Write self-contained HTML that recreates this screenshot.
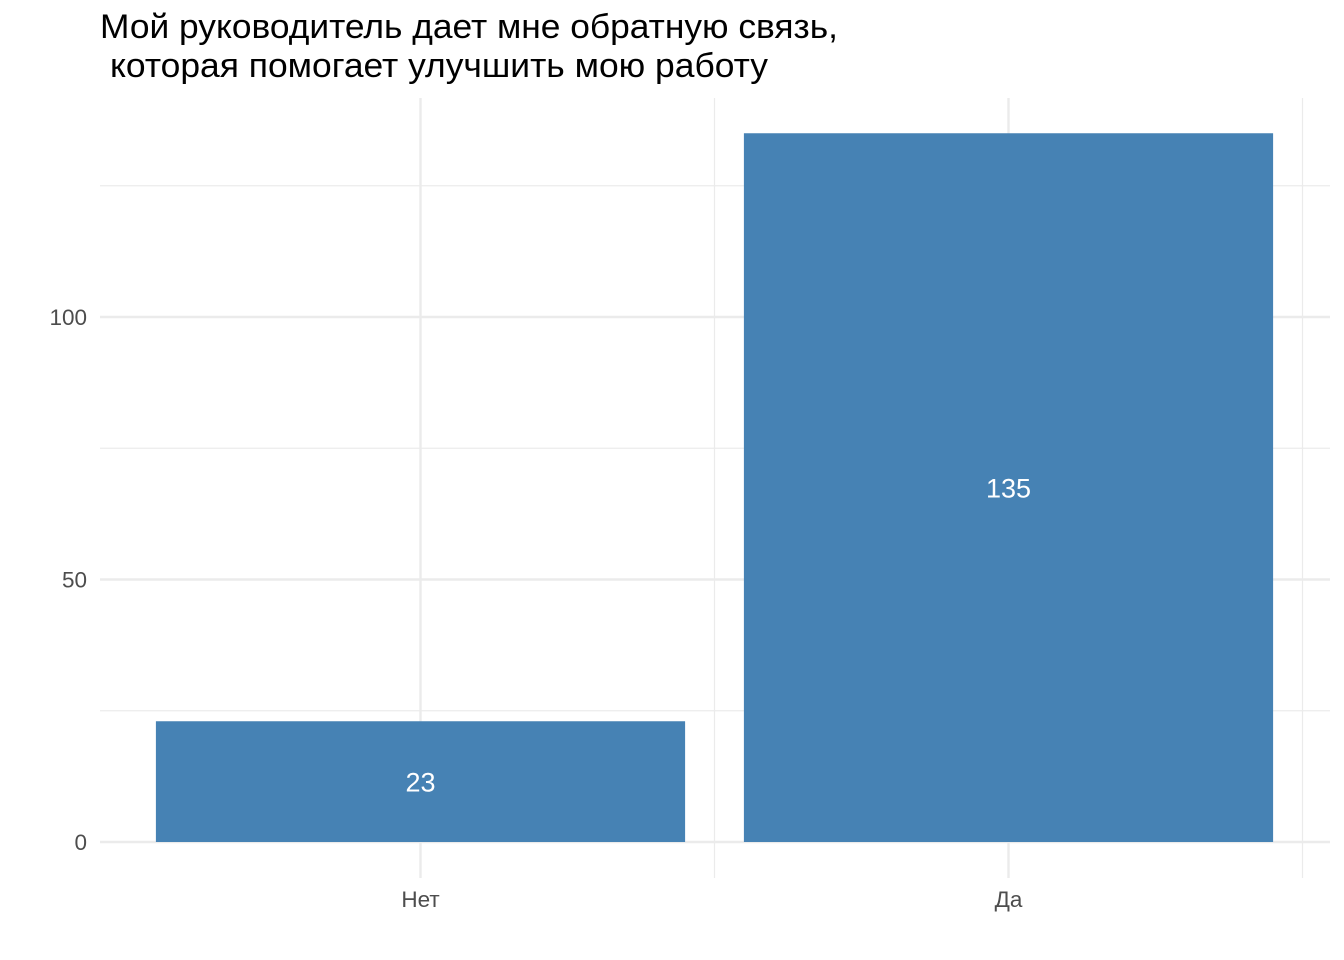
<!DOCTYPE html>
<html><head><meta charset="utf-8"><style>
body{margin:0;background:#fff;}
svg{display:block;font-family:"Liberation Sans",sans-serif;}
</style></head><body>
<svg id="chart" width="1344" height="960">
<text x="100" y="38" font-size="34" fill="#000" textLength="738" lengthAdjust="spacingAndGlyphs">Мой руководитель дает мне обратную связь,</text>
<text x="110" y="77" font-size="34" fill="#000" textLength="658" lengthAdjust="spacingAndGlyphs">которая помогает улучшить мою работу</text>
<g id="grid"></g><g id="bars"></g><g id="axes"></g>
</svg>
<script>
const categories = ["Нет", "Да"];
const values = [23, 135];
const yTicks = [0, 50, 100];
const yMinor = [25, 75, 125];
const svg = document.getElementById('chart');
const NS = 'http://www.w3.org/2000/svg';
const y = v => 842 - v * 5.25;
const step = 588;
const x = i => 420.5 + i * step;
const grid = document.getElementById('grid'), bars = document.getElementById('bars'), axes = document.getElementById('axes');
function mk(tag, attrs, parent){const e=document.createElementNS(NS,tag);for(const k in attrs)e.setAttribute(k,attrs[k]);parent.appendChild(e);return e;}
yMinor.forEach(v=>{const l=mk('line',{x1:100,x2:1330,y1:y(v),y2:y(v),stroke:'#ebebeb','stroke-width':1.2},grid);

});
yTicks.forEach(v=>{const l=mk('line',{x1:100,x2:1330,y1:y(v),y2:y(v),stroke:'#ebebeb','stroke-width':2.4},grid);


const t=mk('text',{x:87,y:y(v)+8,'text-anchor':'end','font-size':22.5,fill:'#4d4d4d'},axes);t.textContent=v;

});
[x(0)+step/2, x(1)+step/2].forEach(px=>{const l=mk('line',{x1:px,x2:px,y1:98,y2:878,stroke:'#ebebeb','stroke-width':1.2},grid);

});
categories.forEach((c,i)=>{
const l=mk('line',{x1:x(i),x2:x(i),y1:98,y2:878,stroke:'#ebebeb','stroke-width':2.4},grid);


const w=step*0.9;
const r=mk('rect',{x:x(i)-w/2,y:y(values[i]),width:w,height:y(0)-y(values[i]),fill:'#4682b4'},bars);


const vl=mk('text',{x:x(i),y:(y(values[i])+y(0))/2+10,'text-anchor':'middle','font-size':27,fill:'#fff'},bars);vl.textContent=values[i];


const t=mk('text',{x:x(i),y:907,'text-anchor':'middle','font-size':22.5,fill:'#4d4d4d'},axes);t.textContent=c;


});
</script>
</body></html>
